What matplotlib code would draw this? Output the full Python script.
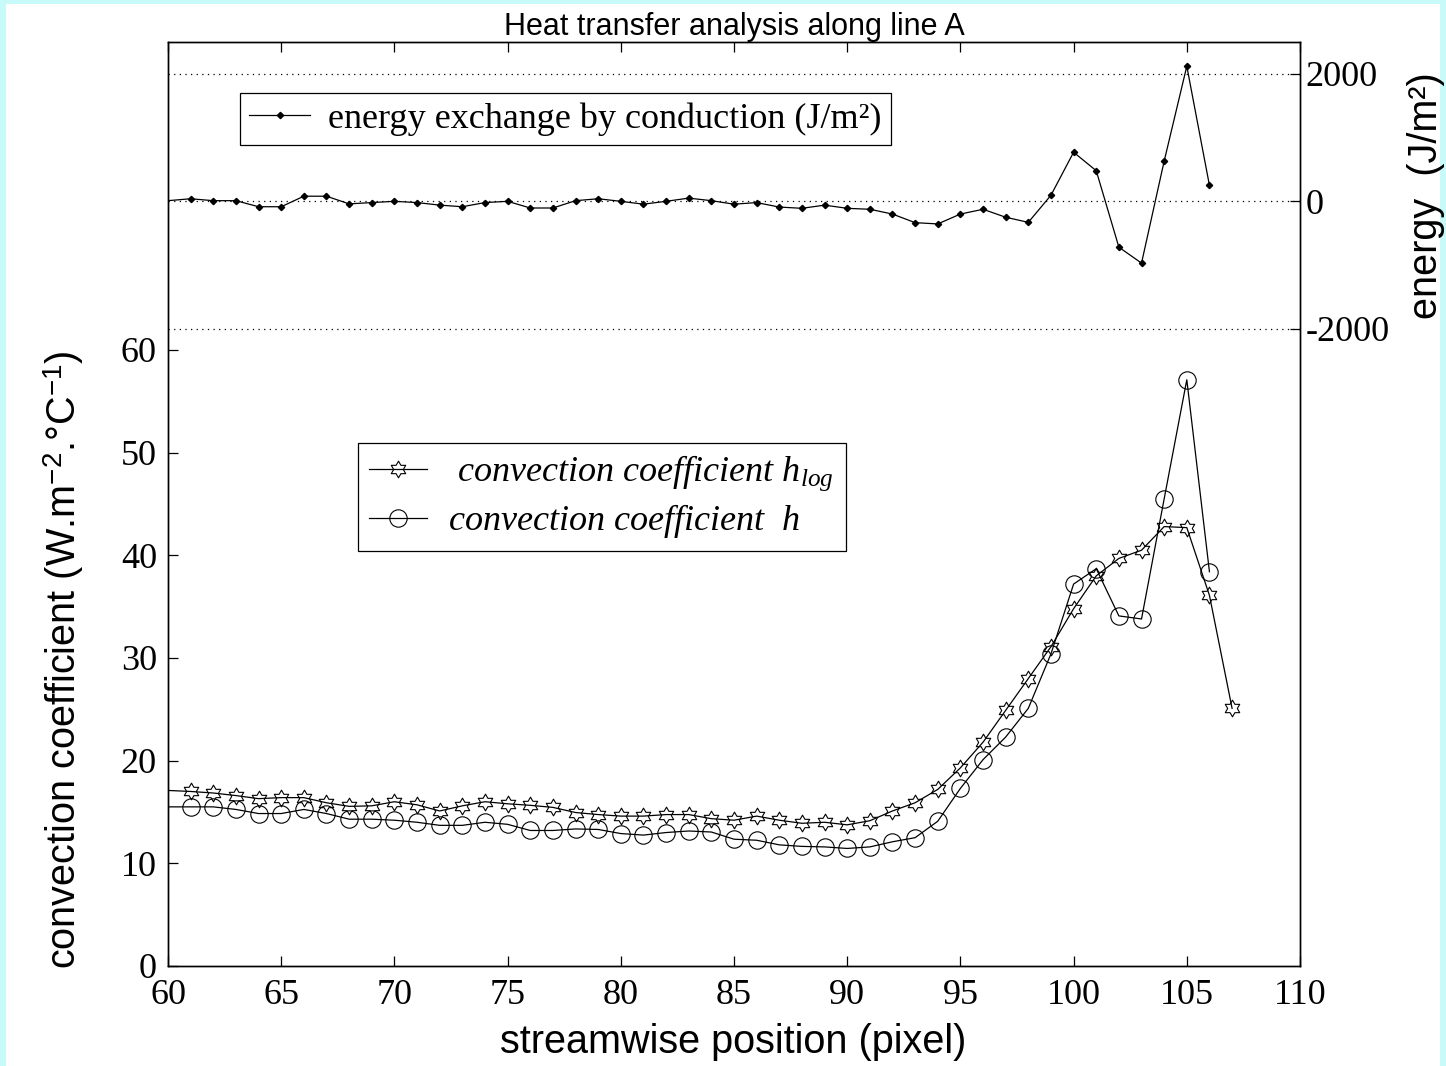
import numpy as np
import matplotlib
matplotlib.use("Agg")
import matplotlib.pyplot as plt
from matplotlib.path import Path
from matplotlib.patches import Rectangle

plt.rcParams['mathtext.fontset'] = 'custom'
plt.rcParams['mathtext.rm'] = 'Liberation Sans'
plt.rcParams['mathtext.it'] = 'Liberation Serif:italic'
plt.rcParams['mathtext.bf'] = 'Liberation Sans:bold'

# ---------------- data ----------------
x_hlog = list(range(60, 108))
h_log = [17.1, 17.0, 16.85, 16.6, 16.3, 16.4, 16.4, 15.9, 15.55, 15.6,
         16.0, 15.7, 15.1, 15.6, 16.0, 15.8, 15.65, 15.45, 14.95, 14.75,
         14.6, 14.6, 14.75, 14.75, 14.35, 14.2, 14.6, 14.2, 13.9, 14.0,
         13.75, 14.15, 15.1, 15.9, 17.2, 19.3, 21.8, 24.9, 28.0, 31.1,
         34.8, 38.0, 39.7, 40.5, 42.8, 42.7, 36.1, 25.1]

x_h = list(range(60, 107))
h = [15.5, 15.5, 15.5, 15.25, 14.85, 14.85, 15.25, 14.85, 14.3, 14.3,
     14.2, 14.0, 13.7, 13.7, 14.0, 13.8, 13.2, 13.2, 13.35, 13.3,
     12.9, 12.75, 13.0, 13.15, 13.05, 12.35, 12.25, 11.8, 11.65, 11.6,
     11.45, 11.6, 12.1, 12.5, 14.1, 17.3, 20.1, 22.3, 25.1, 30.4,
     37.2, 38.7, 34.1, 33.8, 45.5, 57.1, 38.4]

x_energy = list(range(60, 107))
energy = [10, 40, 10, 10, -85, -85, 80, 80, -40, -20,
          0, -20, -60, -85, -20, 0, -105, -105, 10, 40,
          0, -45, 0, 50, 10, -45, -20, -90, -110, -60,
          -110, -125, -200, -335, -355, -200, -125, -250, -330, 95,
          770, 480, -720, -970, 630, 2120, 250]

x_ticks = [60, 65, 70, 75, 80, 85, 90, 95, 100, 105, 110]
h_ticks = [0, 10, 20, 30, 40, 50, 60]
e_ticks = [-2000, 0, 2000]

# hexagram marker
ang = np.deg2rad(90 + 30 * np.arange(12))
rad = np.where(np.arange(12) % 2 == 0, 1.0, 1 / np.sqrt(3))
verts = np.column_stack([rad * np.cos(ang), rad * np.sin(ang)])
verts = np.vstack([verts, verts[:1]])
hexagram = Path(verts, closed=True)

W, H = 1446, 1066
fig = plt.figure(figsize=(W / 100, H / 100), dpi=100)
fig.patch.set_facecolor('#c8fafa')
fig.patches.append(Rectangle((6 / W, 0), (W - 12) / W, (H - 4) / H,
                             transform=fig.transFigure, facecolor='white',
                             edgecolor='none', zorder=-10))

L, R, T, B = 168, 1300, 42, 966
ax = fig.add_axes([L / W, 1 - B / H, (R - L) / W, (B - T) / H])
ax2 = ax.twinx()
ax.set_zorder(2)
ax.patch.set_visible(False)

serif = 'Liberation Serif'
sans = 'Liberation Sans'
tick_fs = 26
label_fs = 28.5

lw = 0.9
ln1, = ax.plot(x_hlog, h_log, color='black', lw=lw, marker=hexagram,
               markersize=12, markerfacecolor='none', markeredgecolor='black',
               markeredgewidth=0.8, markevery=list(range(1, len(x_hlog))),
               label=' convection coefficient $h_{log}$\u2003')
ln2, = ax.plot(x_h, h, color='black', lw=lw, marker='o', markersize=12.5,
               markerfacecolor='none', markeredgecolor='black',
               markeredgewidth=0.8, markevery=list(range(1, len(x_h))),
               label='convection coefficient  $h$')

for v in e_ticks:
    ax2.axhline(v, color='black', lw=0.9, linestyle=(0, (1, 3.5)), zorder=1)
ln3, = ax2.plot(x_energy, energy, color='black', lw=lw, marker='D',
                markersize=3.2, markevery=list(range(1, len(x_energy))),
                label='energy exchange by conduction (J/m\u00b2)')

ax.set_xlim(60, 110)
ax.set_ylim(0, 90)
ax2.set_ylim(-12000, 2500)
ax.set_xticks(x_ticks)
ax.set_yticks(h_ticks)
ax2.set_yticks(e_ticks)
ax.set_xticklabels([str(t) for t in x_ticks], fontfamily=serif, fontsize=tick_fs)
ax.set_yticklabels([str(t) for t in h_ticks], fontfamily=serif, fontsize=tick_fs)
ax2.set_yticklabels([str(t) for t in e_ticks], fontfamily=serif, fontsize=tick_fs)

ax.tick_params(axis='x', direction='in', top=True, length=7, width=0.9, pad=9)
ax.tick_params(axis='y', direction='in', length=7, width=0.9, pad=8)
ax2.tick_params(axis='y', direction='in', length=7, width=0.9, pad=4)
for a in (ax, ax2):
    for s in a.spines.values():
        s.set_linewidth(1.0)
        s.set_color('black')

ax.set_xlabel('streamwise position (pixel)', fontfamily=sans, fontsize=label_fs)
ax.xaxis.set_label_coords(0.499, -0.082)
ax.xaxis.label.set_va('center')
ax.set_ylabel(r'convection coefficient (W.m$^{-2}$.$\degree$C$^{-1}$)',
              fontfamily=sans, fontsize=label_fs, va='center', ha='center')
ax.yaxis.set_label_coords(-0.092, 0.331)
ax2.set_ylabel('energy  (J/m\u00b2)', fontfamily=sans, fontsize=label_fs,
               va='center', ha='center', rotation=90)
ax2.yaxis.set_label_coords(1.111, 0.834)

ax.set_title('Heat transfer analysis along line A',
             fontfamily=['Liberation Sans Narrow', sans], fontsize=22, pad=5)

leg1 = ax.legend(handles=[ln3], loc='upper left',
                 bbox_to_anchor=((240 - L) / (R - L), (B - 93) / (B - T)),
                 prop={'family': serif, 'size': 26}, frameon=True,
                 fancybox=False, edgecolor='black', framealpha=1,
                 borderaxespad=0, handlelength=1.7, borderpad=0.25,
                 handletextpad=0.5)
leg1.get_frame().set_linewidth(0.9)
ax.add_artist(leg1)
leg2 = ax.legend(handles=[ln1, ln2], loc='upper left',
                 bbox_to_anchor=((358 - L) / (R - L), (B - 443) / (B - T)),
                 prop={'family': serif, 'size': 26, 'style': 'italic'},
                 frameon=True, fancybox=False, edgecolor='black',
                 framealpha=1, borderaxespad=0, handlelength=1.6,
                 borderpad=0.3, handletextpad=0.6, labelspacing=0.25)
leg2.get_frame().set_linewidth(0.9)

fig.savefig('out.png', dpi=100, facecolor=fig.get_facecolor())
